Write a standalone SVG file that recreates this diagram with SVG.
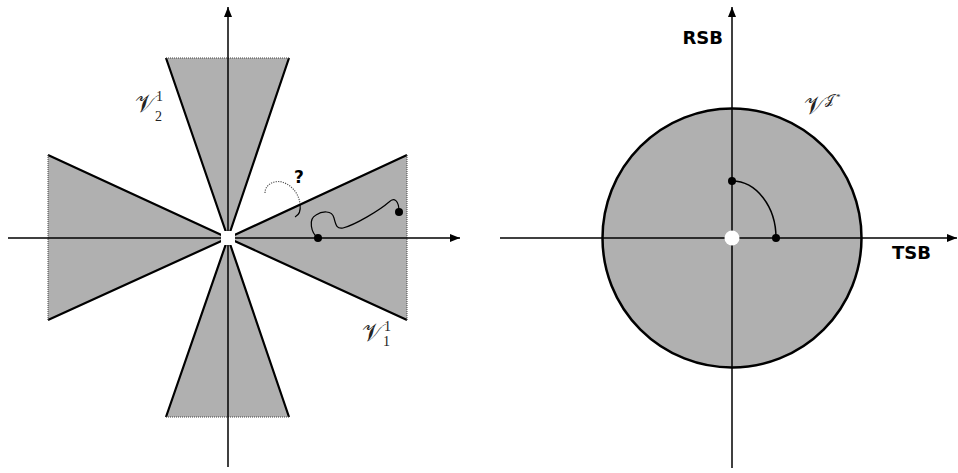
<svg xmlns="http://www.w3.org/2000/svg" width="958" height="473" viewBox="0 0 958 473">
<defs>
<style>
.reg{fill:#b0b0b0;stroke:none}
.edge{stroke:#000;stroke-width:2.2;fill:none}
.base{stroke:#444;stroke-width:1;stroke-dasharray:1 1;fill:none}
.axis{stroke:#000;stroke-width:1.5;fill:none}
.bold{font-family:"DejaVu Sans",Verdana,sans-serif;font-weight:bold;fill:#000}
.cal{font-family:"DejaVu Serif","Liberation Serif","Noto Sans",serif;fill:#222}
.num{font-family:"Liberation Serif","DejaVu Serif",serif;fill:#222}
</style>
<marker id="arr" markerWidth="10" markerHeight="8" refX="10" refY="4" orient="auto" markerUnits="userSpaceOnUse">
<path d="M0,0 L10,4 L0,8 Z" fill="#000"/>
</marker>
</defs>

<g id="left-panel">
<g id="region-V1-right">
<polygon class="reg" points="228,238 407,155 407,320"/>
<path class="edge" d="M228,238 L407,155 M228,238 L407,320"/>
<path class="base" d="M407,155 L407,320"/>
</g>
<g id="region-V1-left">
<polygon class="reg" points="228,238 48,155 48,320"/>
<path class="edge" d="M228,238 L48,155 M228,238 L48,320"/>
<path class="base" d="M48,155 L48,320"/>
</g>
<g id="region-V2-top">
<polygon class="reg" points="228,238 166,58 289,58"/>
<path class="edge" d="M228,238 L166,58 M228,238 L289,58"/>
<path class="base" d="M166,58 L289,58"/>
</g>
<g id="region-V2-bottom">
<polygon class="reg" points="228,238 166,417 289,417"/>
<path class="edge" d="M228,238 L166,417 M228,238 L289,417"/>
<path class="base" d="M166,417 L289,417"/>
</g>
<g id="left-axes">
<line class="axis" x1="8" y1="238" x2="460" y2="238" marker-end="url(#arr)"/>
<line class="axis" x1="228" y1="467" x2="228" y2="7" marker-end="url(#arr)"/>
</g>
<rect id="origin-hole" x="221" y="231" width="14" height="14" fill="#fff"/>
<g id="paths">
<path d="M265,193 C265,184 275,180 282,182 C292,185 299,194 300,204" fill="none" stroke="#555" stroke-width="1.2" stroke-dasharray="1.2 1.2"/>
<path d="M300,204 C301,211 299,215 295,217" fill="none" stroke="#000" stroke-width="1.2"/>
<path d="M318,238 C311,233 308,219 316,215 C322,211 332,210 334,218 C336,226 337,229 343,228 C355,225 380,210 389,202 C394,197 399,200 399,212" fill="none" stroke="#000" stroke-width="1.2"/>
<circle cx="318" cy="238" r="4" fill="#000"/>
<circle cx="399" cy="212" r="4" fill="#000"/>
<text class="bold" x="294" y="183" font-size="17">?</text>
</g>
<g id="label-V21">
<text class="cal" x="135" y="112" font-size="25">𝒱</text>
<text class="num" x="156" y="101" font-size="14">1</text>
<text class="num" x="155" y="121" font-size="14">2</text>
</g>
<g id="label-V11">
<text class="cal" x="362" y="341" font-size="25">𝒱</text>
<text class="num" x="384" y="331" font-size="14">1</text>
<text class="num" x="383" y="346" font-size="14">1</text>
</g>
</g>

<g id="right-panel">
<circle id="region-VJ" cx="732" cy="238" r="129.5" fill="#b0b0b0" stroke="#000" stroke-width="2.5"/>
<g id="right-axes">
<line class="axis" x1="500" y1="238" x2="957" y2="238" marker-end="url(#arr)"/>
<line class="axis" x1="732" y1="468" x2="732" y2="7" marker-end="url(#arr)"/>
</g>
<path d="M732,181 A44,57 0 0 1 776,238" fill="none" stroke="#000" stroke-width="1.5"/>
<circle cx="732" cy="181" r="4" fill="#000"/>
<circle cx="776" cy="238" r="4" fill="#000"/>
<circle id="origin-hole-r" cx="732" cy="238" r="7.5" fill="#fff"/>
<text class="bold" x="723" y="44" font-size="18" text-anchor="end">RSB</text>
<text class="bold" x="892" y="259" font-size="18">TSB</text>
<g id="label-VJ">
<text class="cal" x="804" y="114" font-size="25">𝒱</text>
<text class="cal" x="825" y="104" font-size="13">𝒥</text>
<text class="num" x="836" y="100" font-size="9">*</text>
</g>
</g>
</svg>
